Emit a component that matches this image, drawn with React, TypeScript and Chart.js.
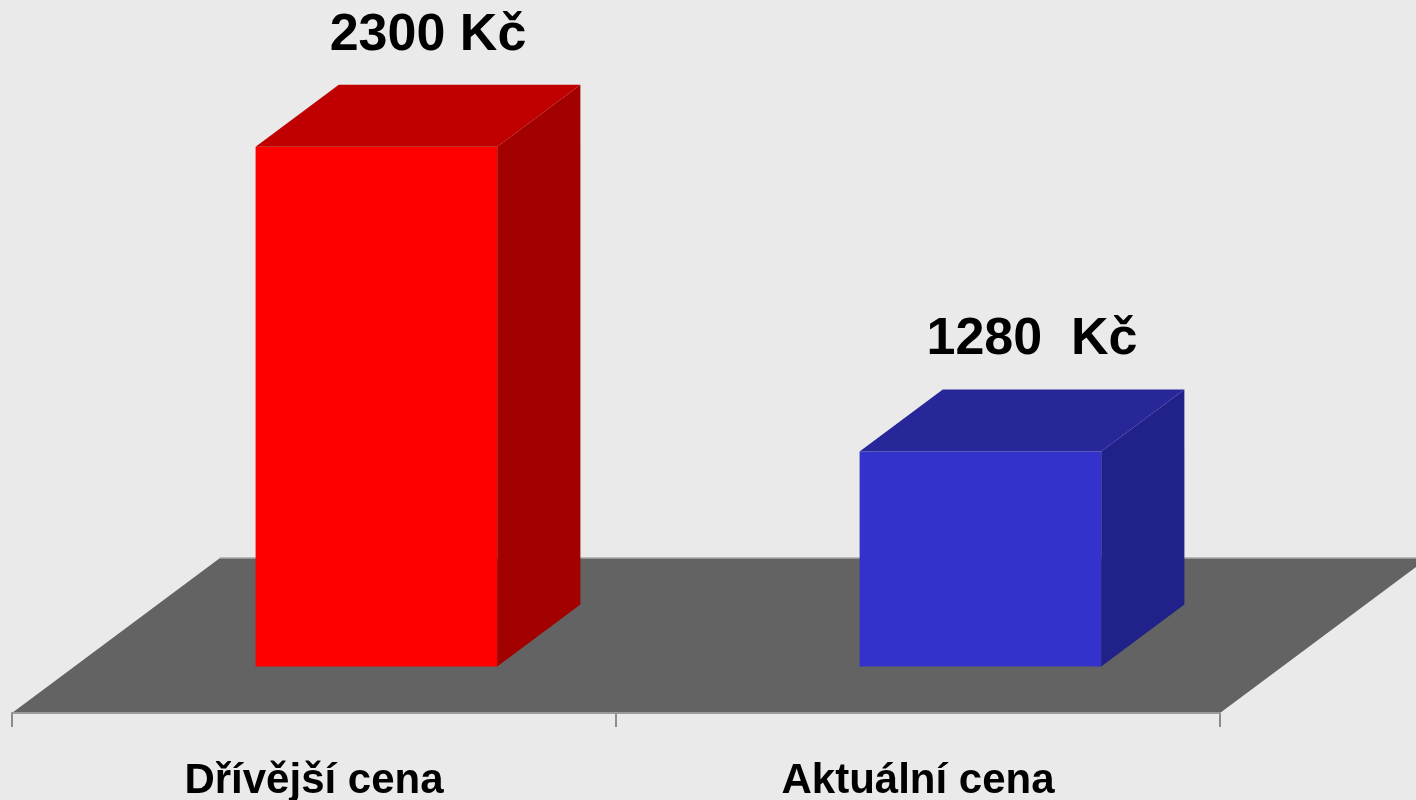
import React, { useEffect, useRef } from "react";
import { Chart, registerables } from "chart.js";

Chart.register(...registerables);

const categories: string[] = ["Dřívější cena", "Aktuální cena"];
const prices: number[] = [2300, 1280];
const valueLabels: string[] = ["2300 Kč", "1280  Kč"];
const Y_MIN = 560;
const Y_MAX = 2900;

const FRONT_COLORS = ["#FF0000", "#3333CC"];
const TOP_COLORS = ["#C00000", "#27279A"];
const SIDE_COLORS = ["#A30000", "#21218A"];
const BG = "#EAEAEA";
const FLOOR = "#636363";

// 3D geometry (pixels)
const FLOOR_DX = 208;
const FLOOR_DY = 155;
const BAR_OFF = 0.3; // fraction of floor depth before the bar front
const BAR_DEPTH = 0.4; // fraction of floor depth taken by the bar

const FONT = "'Liberation Sans', Arial, Helvetica, sans-serif";

const threeD = {
  id: "threeD",
  beforeDraw(chart: any) {
    const { ctx, chartArea, width, height } = chart;
    ctx.save();
    ctx.fillStyle = BG;
    ctx.fillRect(0, 0, width, height);
    const l = chartArea.left, r = chartArea.right, b = chartArea.bottom;
    ctx.beginPath();
    ctx.moveTo(l, b);
    ctx.lineTo(r, b);
    ctx.lineTo(r + FLOOR_DX, b - FLOOR_DY);
    ctx.lineTo(l + FLOOR_DX, b - FLOOR_DY);
    ctx.closePath();
    ctx.fillStyle = FLOOR;
    ctx.fill();
    ctx.beginPath();
    ctx.moveTo(l + FLOOR_DX, b - FLOOR_DY);
    ctx.lineTo(r + FLOOR_DX, b - FLOOR_DY);
    ctx.strokeStyle = "#A8A8A8";
    ctx.lineWidth = 1.5;
    ctx.stroke();
    ctx.restore();
  },
  beforeDatasetsDraw(chart: any) {
    const ctx = chart.ctx;
    ctx.save();
    ctx.translate(FLOOR_DX * BAR_OFF, -FLOOR_DY * BAR_OFF);
  },
  afterDatasetsDraw(chart: any) {
    const ctx = chart.ctx;
    const bdx = FLOOR_DX * BAR_DEPTH;
    const bdy = FLOOR_DY * BAR_DEPTH;
    const meta = chart.getDatasetMeta(0);
    const pts: { cx: number; ty: number }[] = [];
    meta.data.forEach((el: any, i: number) => {
      const { x, y, base, width } = el.getProps(["x", "y", "base", "width"], true);
      const left = x - width / 2;
      const right = x + width / 2;
      // side face
      ctx.beginPath();
      ctx.moveTo(right, y);
      ctx.lineTo(right + bdx, y - bdy);
      ctx.lineTo(right + bdx, base - bdy);
      ctx.lineTo(right, base);
      ctx.closePath();
      ctx.fillStyle = SIDE_COLORS[i];
      ctx.fill();
      // top face
      ctx.beginPath();
      ctx.moveTo(left, y);
      ctx.lineTo(right, y);
      ctx.lineTo(right + bdx, y - bdy);
      ctx.lineTo(left + bdx, y - bdy);
      ctx.closePath();
      ctx.fillStyle = TOP_COLORS[i];
      ctx.fill();
      pts.push({ cx: x + bdx / 2 + 10, ty: y - bdy - 35 });
    });
    // value labels
    ctx.fillStyle = "#000";
    ctx.font = `bold 52px ${FONT}`;
    ctx.textAlign = "center";
    ctx.textBaseline = "alphabetic";
    pts.forEach((p, i) => {
      ctx.fillText(valueLabels[i], p.cx, p.ty);
    });
    ctx.restore();
  },
};

export default function App() {
  const ref = useRef<HTMLCanvasElement | null>(null);
  useEffect(() => {
    if (!ref.current) return;
    const chart = new Chart(ref.current, {
      type: "bar",
      data: {
        labels: categories,
        datasets: [
          {
            data: prices,
            base: Y_MIN,
            backgroundColor: FRONT_COLORS,
            borderWidth: 0,
            barPercentage: 0.4,
            categoryPercentage: 1.0,
            clip: false as any,
          } as any,
        ],
      },
      options: {
        animation: false,
        responsive: false,
        devicePixelRatio: 1,
        layout: { padding: { left: 12, right: 196, top: 14, bottom: 0 } },
        plugins: { legend: { display: false }, tooltip: { enabled: false }, title: { display: false } },
        scales: {
          x: {
            offset: true,
            grid: {
              display: true,
              drawOnChartArea: false,
              drawTicks: true,
              tickLength: 14,
              color: "#8C8C8C",
              lineWidth: 2,
              offset: true,
            },
            border: { display: true, color: "#9A9A9A", width: 2 },
            ticks: {
              color: "#000",
              font: { family: FONT, size: 42, weight: "bold" },
              padding: 29,
              maxRotation: 0,
            },
            afterFit: (scale: any) => {
              scale.height = 87;
            },
          },
          y: { display: false, min: Y_MIN, max: Y_MAX },
        },
      },
      plugins: [threeD],
    });
    return () => chart.destroy();
  }, []);
  return (
    <div style={{ position: "fixed", left: 0, top: 0, width: 1416, height: 800, background: BG }}>
      <canvas ref={ref} width={1416} height={800} style={{ display: "block" }} />
    </div>
  );
}
